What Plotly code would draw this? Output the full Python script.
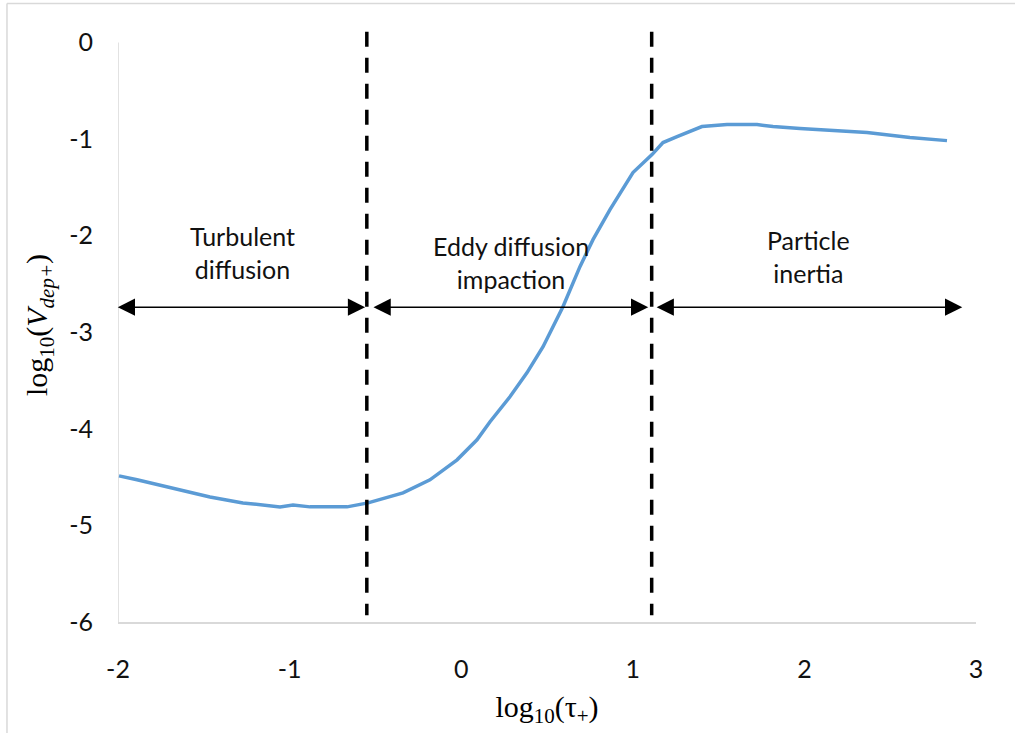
import plotly.graph_objects as go

# Curve data
log_tau = [-1.994, -1.889, -1.464, -1.272, -1.056, -0.980, -0.881, -0.665, -0.543,
           -0.339, -0.182, -0.024, 0.092, 0.168, 0.284, 0.383, 0.477, 0.535, 0.593,
           0.692, 0.768, 0.867, 1.001, 1.112, 1.176, 1.258, 1.403, 1.549, 1.724,
           1.817, 1.974, 2.365, 2.615, 2.831]
log_vdep = [-4.487, -4.528, -4.705, -4.767, -4.808, -4.788, -4.808, -4.808, -4.767,
            -4.663, -4.528, -4.321, -4.114, -3.927, -3.668, -3.420, -3.150, -2.943, -2.736,
            -2.321, -2.041, -1.731, -1.347, -1.161, -1.036, -0.974, -0.870, -0.850, -0.850,
            -0.870, -0.891, -0.933, -0.984, -1.016]

# Regime boundaries (dashed lines)
boundaries = [-0.55, 1.11]
# Arrows: (start, end) along x at arrow level
arrow_y = -2.74
arrows = [(-2.01, -0.56), (-0.52, 1.09), (1.13, 2.92)]
# Region labels
labels = ["Turbulent<br>diffusion", "Eddy diffusion<br>impaction", "Particle<br>inertia"]
label_x = [-1.272, 0.290, 2.021]
label_y = [-2.171, -2.275, -2.218]

x_ticks = [-2, -1, 0, 1, 2, 3]
y_ticks = [0, -1, -2, -3, -4, -5, -6]

fig = go.Figure()
fig.add_trace(go.Scatter(x=log_tau, y=log_vdep, mode="lines",
                         line=dict(color="#5B9BD5", width=3.5), showlegend=False))

shapes = []
for b in boundaries:
    shapes.append(dict(type="line", xref="x", yref="y", x0=b, x1=b, y0=0.11, y1=-5.93,
                       line=dict(color="black", width=3.5, dash="15px,11px")))
# y axis line (only from -6 to 0)
shapes.append(dict(type="line", xref="x", yref="y", x0=-2, x1=-2, y0=-6, y1=0,
                   line=dict(color="#d9d9d9", width=1.5), layer="below"))
# chart-area border (left and top visible)
shapes.append(dict(type="line", xref="paper", yref="paper", x0=-0.1294, x1=-0.1294,
                   y0=-0.2, y1=1.0413, line=dict(color="#d9d9d9", width=1.5)))
shapes.append(dict(type="line", xref="paper", yref="paper", x0=-0.1294, x1=1.1,
                   y0=1.0413, y1=1.0413, line=dict(color="#d9d9d9", width=1.5)))

annotations = []
for (a, b) in arrows:
    annotations.append(dict(x=b, y=arrow_y, ax=a, ay=arrow_y, xref="x", yref="y",
                            axref="x", ayref="y", text="", showarrow=True,
                            arrowhead=2, startarrowhead=2, arrowside="end+start",
                            arrowsize=2.3, startarrowsize=2.3, arrowwidth=1.5,
                            arrowcolor="black", standoff=0, startstandoff=0))
for t, lx, ly in zip(labels, label_x, label_y):
    annotations.append(dict(x=lx, y=ly, xref="x", yref="y", text=t, showarrow=False,
                            font=dict(family="Lato", size=25, color="#111111"),
                            align="center"))

fig.update_layout(
    width=1015, height=733,
    margin=dict(l=118, r=39, t=28, b=111),
    paper_bgcolor="white", plot_bgcolor="white",
    shapes=shapes, annotations=annotations,
    xaxis=dict(range=[-2, 3], tickvals=x_ticks, ticktext=[str(v) for v in x_ticks],
               showgrid=False, zeroline=False, showline=True, linecolor="#d9d9d9",
               linewidth=1.5, ticks="", ticklabelstandoff=24,
               tickfont=dict(family="Lato", size=25, color="#111111"),
               title=dict(text="log<sub>10</sub>(τ<sub>+</sub>)",
                          font=dict(family="Liberation Serif", size=30, color="black"),
                          standoff=14)),
    yaxis=dict(range=[-6, 0.15], tickvals=y_ticks, ticktext=[str(v) for v in y_ticks],
               showgrid=False, zeroline=False, showline=False, ticks="",
               ticklabelstandoff=24,
               tickfont=dict(family="Lato", size=25, color="#111111"),
               title=dict(text="log<sub>10</sub>(<i>V<sub>dep+</sub></i>)",
                          font=dict(family="Liberation Serif", size=30, color="black"),
                          standoff=12)),
)

fig.write_html("out.html")
